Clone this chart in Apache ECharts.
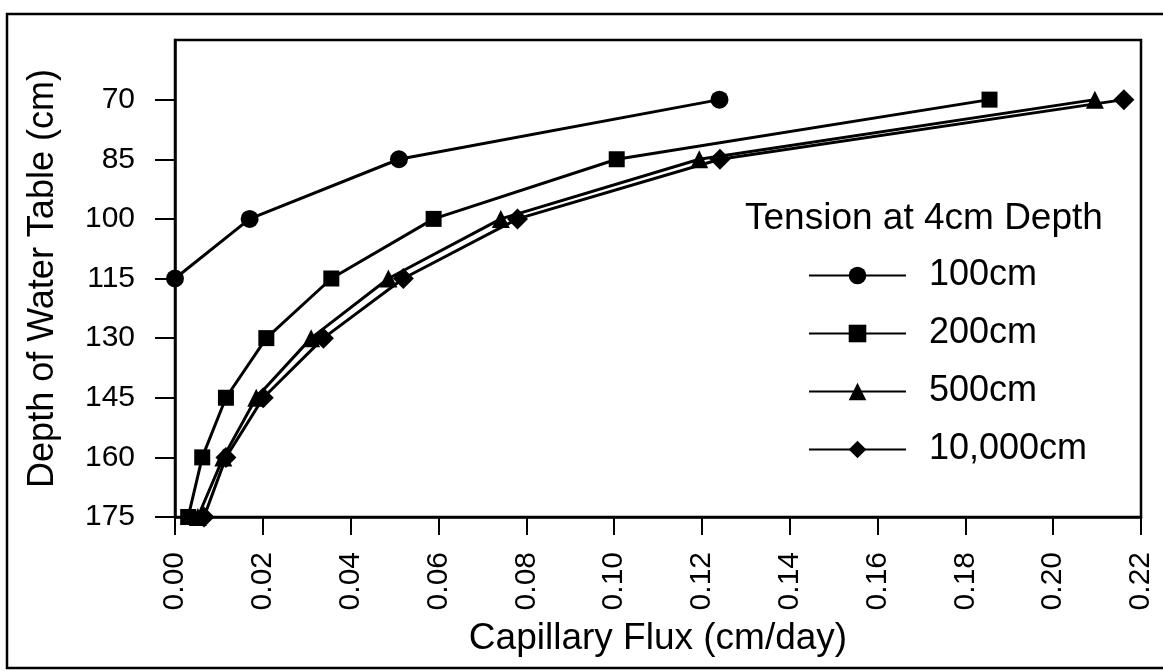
<!DOCTYPE html>
<html>
<head>
<meta charset="utf-8">
<script src="https://cdn.jsdelivr.net/npm/echarts@6/dist/echarts.min.js"></script>
<style>
html,body{margin:0;padding:0;background:#fff;}
#chart{width:1163px;height:671px;}
</style>
</head>
<body>
<div id="chart"></div>
<script>
// Data
const depths = [70, 85, 100, 115, 130, 145, 160, 175];
const flux100 = [0.124, 0.051, 0.017, 0.000];
const flux200 = [0.1855, 0.1006, 0.0589, 0.0356, 0.0208, 0.0116, 0.0062, 0.0030];
const flux500 = [0.2095, 0.1194, 0.0742, 0.0486, 0.0310, 0.0185, 0.0110, 0.0052];
const flux10000 = [0.2161, 0.1241, 0.0780, 0.0520, 0.0338, 0.0201, 0.0116, 0.0066];
const seriesNames = ['100cm', '200cm', '500cm', '10,000cm'];
const yTickValues = [70, 85, 100, 115, 130, 145, 160, 175];

const pair = (fx) => fx.map((v, i) => [v, depths[i]]);
const FONT = '"Liberation Sans", Arial, sans-serif';

const chart = echarts.init(document.getElementById('chart'));
const mk = (name, data, symbol, size) => ({
  name: name,
  type: 'line',
  data: pair(data),
  symbol: symbol,
  symbolSize: size,
  showSymbol: true,
  lineStyle: { color: '#000', width: 3 },
  itemStyle: { color: '#000' },
  emphasis: { disabled: true },
  animation: false,
  z: 3
});

chart.setOption({
  backgroundColor: '#fff',
  animation: false,
  textStyle: { fontFamily: FONT, color: '#000' },
  graphic: [{
    type: 'rect',
    shape: { x: 7, y: 14, width: 1250, height: 654 },
    style: { fill: 'none', stroke: '#000', lineWidth: 2.5 },
    silent: true
  }],
  title: {
    text: 'Tension at 4cm Depth',
    left: 745,
    top: 200,
    padding: 0,
    textStyle: { fontFamily: FONT, fontSize: 37, fontWeight: 'normal', color: '#000' }
  },
  legend: {
    orient: 'vertical',
    left: 808,
    top: 257,
    padding: 0,
    itemWidth: 97,
    itemHeight: 22,
    itemGap: 21,
    data: seriesNames,
    textStyle: { fontFamily: FONT, fontSize: 36, lineHeight: 37, color: '#000', padding: [0, 0, 0, 18] },
    selectedMode: false
  },
  grid: {
    left: 175, top: 40, right: 22, bottom: 154,
    show: true, borderColor: '#000', borderWidth: 2.5, containLabel: false
  },
  xAxis: {
    type: 'value',
    min: 0, max: 0.22, interval: 0.02,
    name: 'Capillary Flux (cm/day)',
    nameLocation: 'middle',
    nameGap: 103,
    nameTextStyle: { fontFamily: FONT, fontSize: 37, color: '#000' },
    axisLine: { show: true, onZero: false, lineStyle: { color: '#000', width: 2.5 } },
    axisTick: { show: true, inside: false, length: 18, lineStyle: { color: '#000', width: 2 } },
    axisLabel: {
      rotate: 90, margin: 35, fontFamily: FONT, fontSize: 30, color: '#000',
      formatter: (v) => v.toFixed(2)
    },
    splitLine: { show: false }
  },
  yAxis: {
    type: 'value',
    inverse: true,
    min: 55, max: 175, interval: 15,
    name: 'Depth of Water Table (cm)',
    nameLocation: 'middle',
    nameGap: 114,
    nameTextStyle: { fontFamily: FONT, fontSize: 36, color: '#000' },
    axisLine: { show: true, onZero: false, lineStyle: { color: '#000', width: 2.5 } },
    axisTick: { show: true, length: 20, customValues: yTickValues, lineStyle: { color: '#000', width: 2 } },
    axisLabel: { margin: 40, fontFamily: FONT, fontSize: 30, color: '#000', customValues: yTickValues },
    splitLine: { show: false }
  },
  series: [
    mk(seriesNames[0], flux100, 'circle', 18),
    mk(seriesNames[1], flux200, 'rect', 16),
    mk(seriesNames[2], flux500, 'triangle', 18),
    mk(seriesNames[3], flux10000, 'diamond', 21)
  ]
});
</script>
</body>
</html>
